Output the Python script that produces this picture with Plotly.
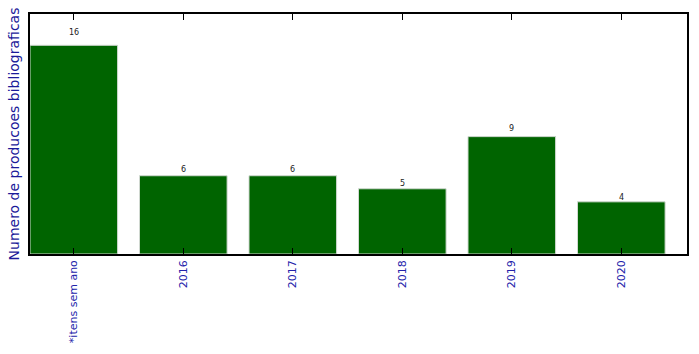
import plotly.graph_objects as go

categories = ["*itens sem ano", "2016", "2017", "2018", "2019", "2020"]
values = [16, 6, 6, 5, 9, 4]

fig = go.Figure()
fig.add_trace(go.Bar(
    x=list(range(len(categories))), y=values, width=0.8,
    marker=dict(color="#006400", line=dict(color="#d0d8d0", width=1)),
))
for i, v in enumerate(values):
    fig.add_annotation(x=i, y=v * 1.05, text=str(v), showarrow=False,
                       yanchor="middle", yshift=2,
                       font=dict(family="DejaVu Sans", size=8, color="#222222"))

fig.update_layout(
    width=699, height=354,
    margin=dict(l=30, r=10, t=14, b=100),
    plot_bgcolor="white", paper_bgcolor="white",
    showlegend=False,
    font=dict(family="DejaVu Sans"),
    xaxis=dict(
        range=[-0.4, 5.6], tickmode="array", tickvals=list(range(len(categories))),
        ticktext=categories, tickangle=-90, ticks="inside", ticklen=6,
        tickcolor="black", showline=True, linecolor="black", linewidth=1.5,
        mirror="ticks", showgrid=False, zeroline=False,
        tickfont=dict(size=11, color="#2222aa"),
    ),
    yaxis=dict(
        range=[0, 18.4], showticklabels=False, ticks="",
        showline=True, linecolor="black", linewidth=1.5, mirror=True,
        showgrid=False, zeroline=False,
        title=dict(text="Numero de producoes bibliograficas", standoff=5,
                   font=dict(size=14, color="#1a1a99")),
    ),
)
fig.write_html("out.html")
